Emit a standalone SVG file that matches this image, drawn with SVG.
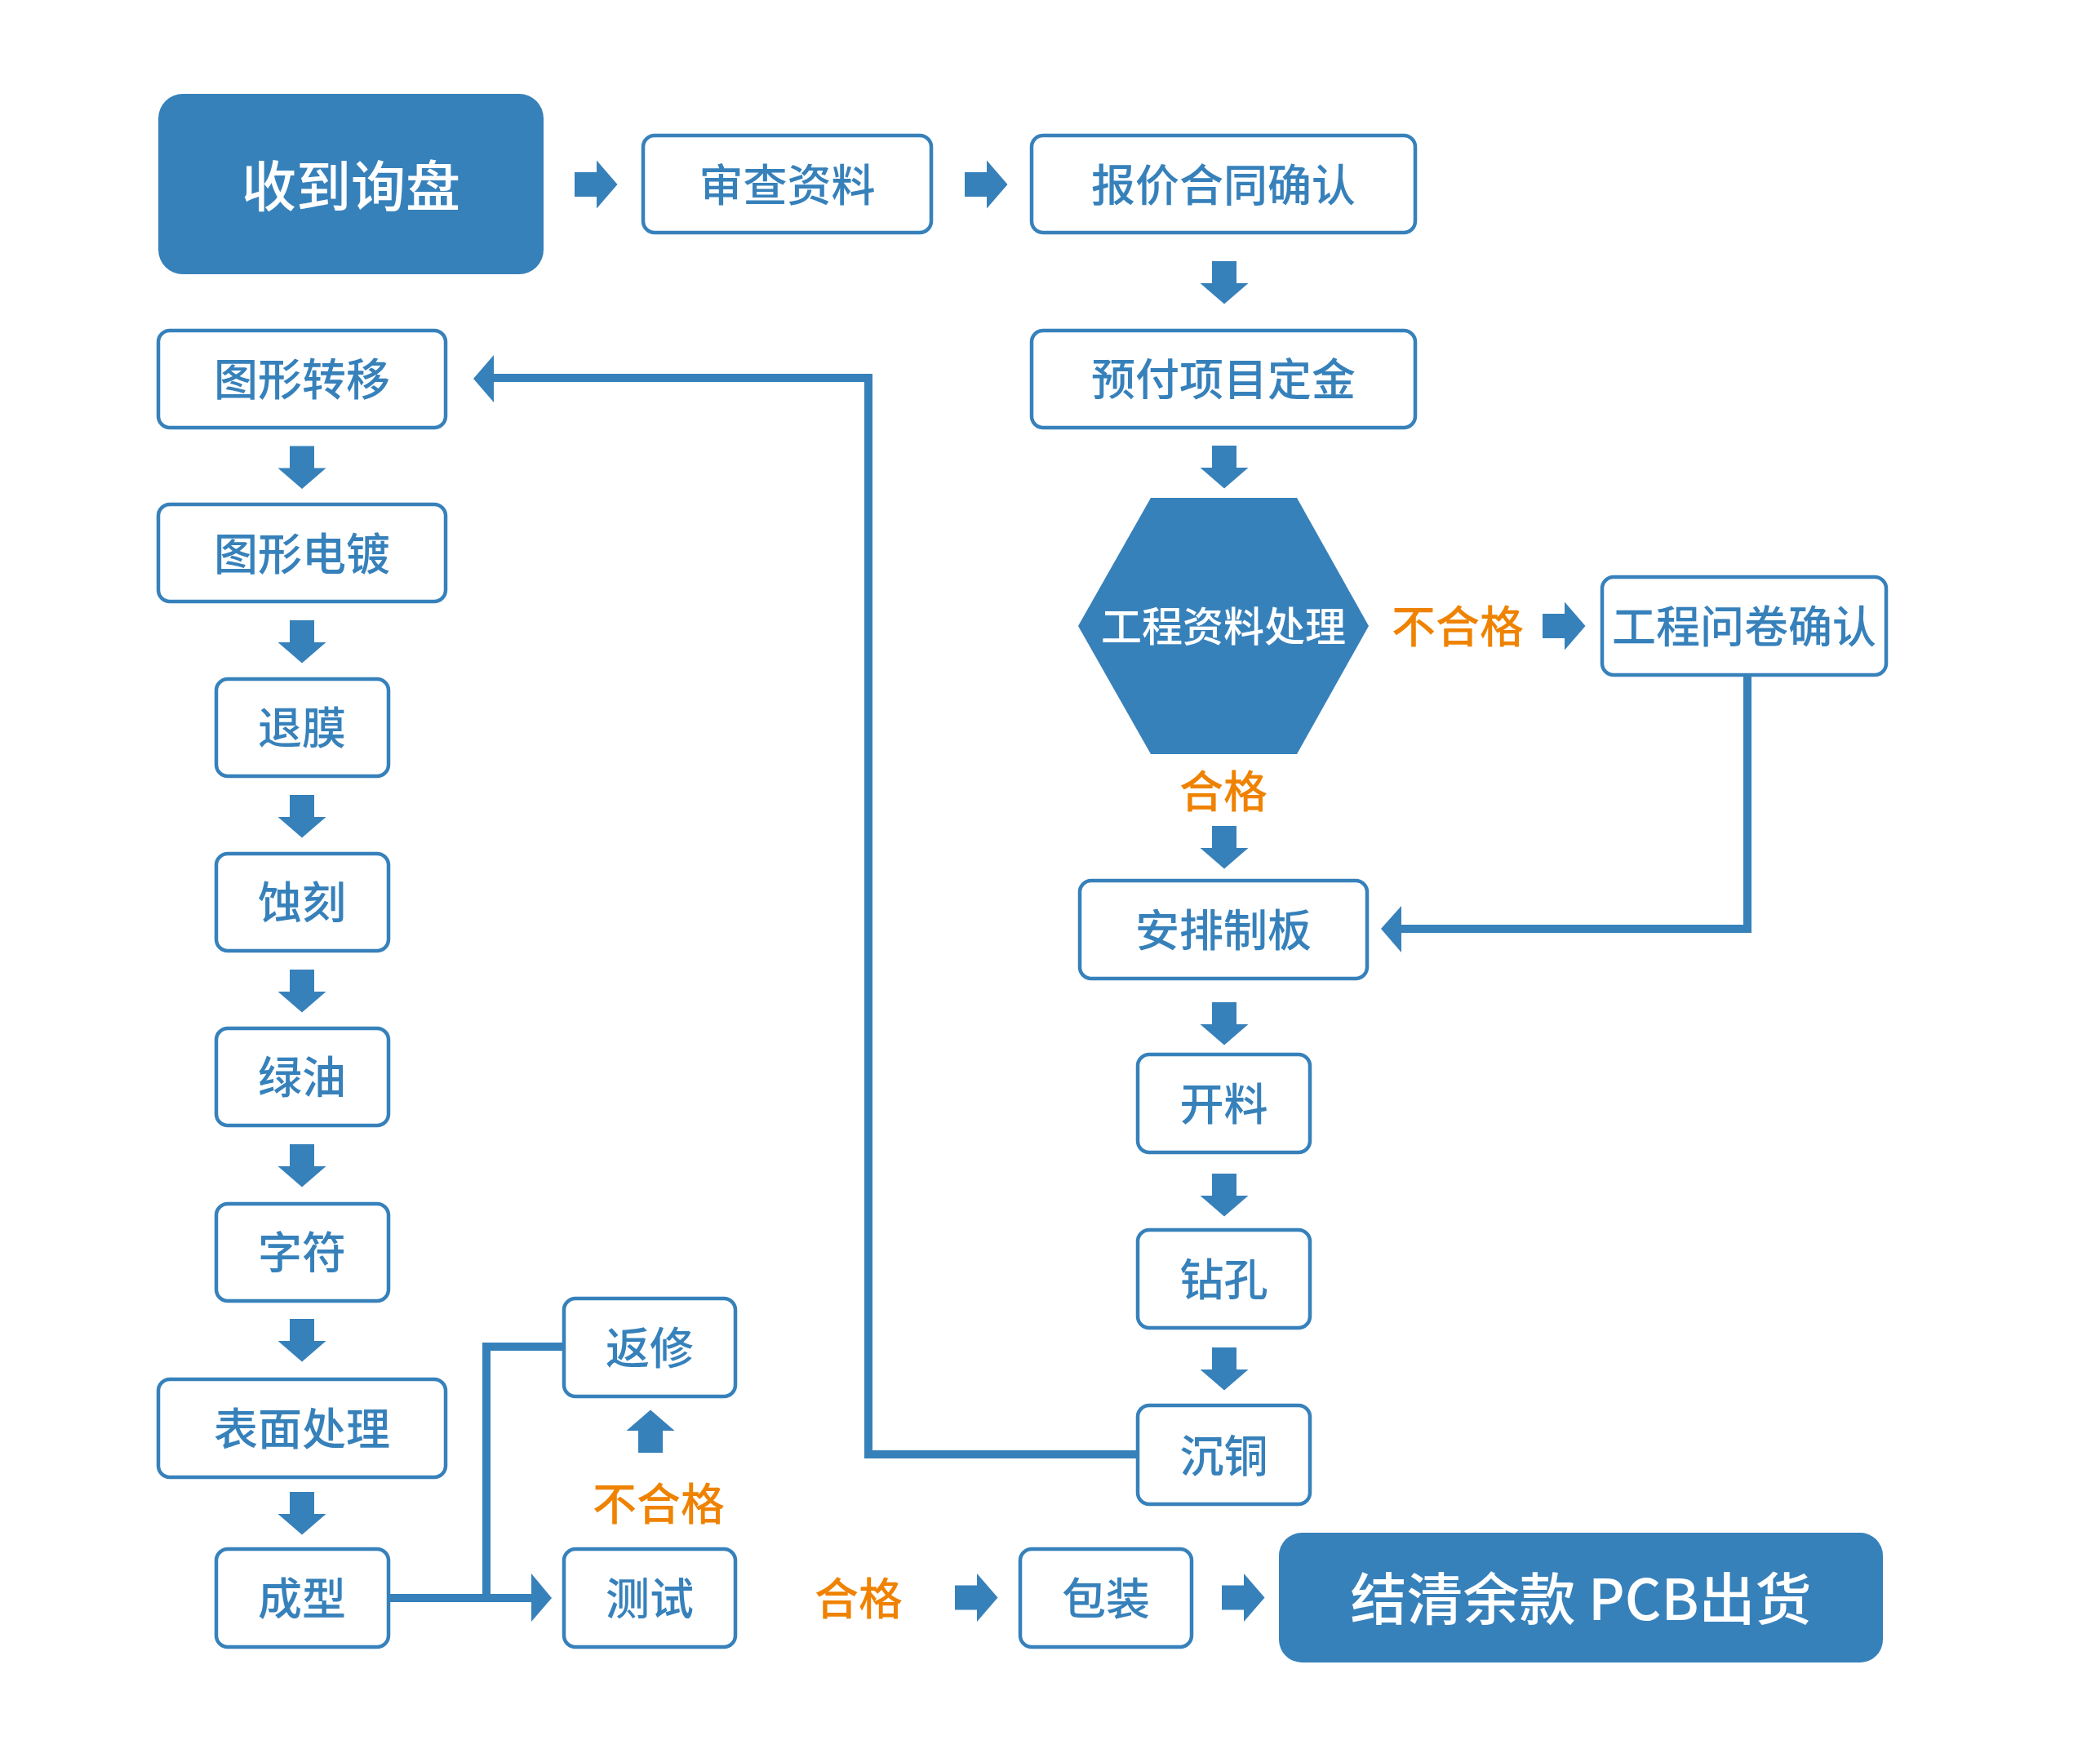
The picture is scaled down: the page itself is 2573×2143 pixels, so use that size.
<svg xmlns="http://www.w3.org/2000/svg" width="2573" height="2143" viewBox="0 0 2573 2143">
<defs>
<style>
.box{fill:#fff;stroke:#3781BB;stroke-width:4.5}
.solid{fill:#3781BB}
.t{font-family:"Noto Sans CJK SC","Noto Sans",sans-serif;font-size:54px;font-weight:500;fill:#3781BB;text-anchor:middle;dominant-baseline:central}
.w{fill:#fff;font-weight:500}
.o{fill:#EF8200;font-size:54px}
.line{fill:none;stroke:#3781BB;stroke-width:10}
.ah{fill:#3781BB}
</style>
<path id="arr" d="M-26,-15 L1,-15 L1,-29.5 L26.5,0 L1,29.5 L1,15 L-26,15 Z" fill="#3781BB"/>
</defs>
<rect width="2573" height="2143" fill="#fff"/>

<g id="connectors">
<use href="#arr" transform="translate(730,226)"/>
<use href="#arr" transform="translate(1208,226)"/>
<use href="#arr" transform="translate(1500,346) rotate(90)"/>
<use href="#arr" transform="translate(1500,572) rotate(90)"/>
<use href="#arr" transform="translate(1500,1038) rotate(90)"/>
<use href="#arr" transform="translate(1500,1254) rotate(90)"/>
<use href="#arr" transform="translate(1500,1464) rotate(90)"/>
<use href="#arr" transform="translate(1500,1677) rotate(90)"/>
<use href="#arr" transform="translate(1916,767)"/>
<use href="#arr" transform="translate(370,572.5) rotate(90)"/>
<use href="#arr" transform="translate(370,786) rotate(90)"/>
<use href="#arr" transform="translate(370,1000) rotate(90)"/>
<use href="#arr" transform="translate(370,1214) rotate(90)"/>
<use href="#arr" transform="translate(370,1428) rotate(90)"/>
<use href="#arr" transform="translate(370,1642) rotate(90)"/>
<use href="#arr" transform="translate(370,1854) rotate(90)"/>
<use href="#arr" transform="translate(797,1754) rotate(-90)"/>
<use href="#arr" transform="translate(1196,1957.5)"/>
<use href="#arr" transform="translate(1523,1957.5)"/>
<polyline class="line" points="1393,1782 1064,1782 1064,463 604,463"/>
<polygon class="ah" points="580,464 605,435 605,493"/>
<polyline class="line" points="2141,828 2141,1138 1715,1138"/>
<polygon class="ah" points="1692,1138 1717,1110 1717,1167"/>
<polyline class="line" points="476,1958 652,1958"/>
<polygon class="ah" points="676,1958 651,1928 651,1987"/>
<polyline class="line" points="596,1958 596,1650 691,1650"/>
</g>

<g id="n-shoudao"><rect class="solid" x="194" y="115" width="472" height="221" rx="30"/><text class="t w" x="430" y="223" style="font-size:67px">收到询盘</text></g>
<g id="n-shencha"><rect class="box" x="788" y="166" width="353" height="119" rx="14"/><text class="t" x="964.5" y="223">审查资料</text></g>
<g id="n-baojia"><rect class="box" x="1264" y="166" width="470" height="119" rx="14"/><text class="t" x="1499" y="223">报价合同确认</text></g>
<g id="n-yufu"><rect class="box" x="1264" y="405" width="470" height="119" rx="14"/><text class="t" x="1499" y="461">预付项目定金</text></g>
<g id="n-gongcheng"><polygon class="solid" points="1321,767 1410,610 1589,610 1677,767 1589,924 1410,924"/><text class="t w" x="1499" y="764" style="font-size:50px">工程资料处理</text></g>
<g id="n-wenjuan"><rect class="box" x="1963" y="707" width="348" height="120" rx="14"/><text class="t" x="2137" y="764">工程问卷确认</text></g>
<g id="n-anpai"><rect class="box" x="1323" y="1079" width="352" height="120" rx="14"/><text class="t" x="1499" y="1136">安排制板</text></g>
<g id="n-kailiao"><rect class="box" x="1394" y="1292" width="211" height="120" rx="14"/><text class="t" x="1499.5" y="1349">开料</text></g>
<g id="n-zuankong"><rect class="box" x="1394" y="1507" width="211" height="120" rx="14"/><text class="t" x="1499.5" y="1564">钻孔</text></g>
<g id="n-chentong"><rect class="box" x="1394" y="1722" width="211" height="121" rx="14"/><text class="t" x="1499.5" y="1780">沉铜</text></g>
<g id="n-tuxingzhuanyi"><rect class="box" x="194" y="405" width="352" height="119" rx="14"/><text class="t" x="370" y="461">图形转移</text></g>
<g id="n-tuxingdiandu"><rect class="box" x="194" y="618" width="352" height="119" rx="14"/><text class="t" x="370" y="675">图形电镀</text></g>
<g id="n-tuimo"><rect class="box" x="265" y="832" width="211" height="119" rx="14"/><text class="t" x="370" y="888">退膜</text></g>
<g id="n-shike"><rect class="box" x="265" y="1046" width="211" height="119" rx="14"/><text class="t" x="370" y="1102">蚀刻</text></g>
<g id="n-lvyou"><rect class="box" x="265" y="1260" width="211" height="119" rx="14"/><text class="t" x="370" y="1316">绿油</text></g>
<g id="n-zifu"><rect class="box" x="265" y="1475" width="211" height="119" rx="14"/><text class="t" x="370" y="1531">字符</text></g>
<g id="n-biaomian"><rect class="box" x="194" y="1690" width="352" height="120" rx="14"/><text class="t" x="370" y="1747">表面处理</text></g>
<g id="n-chengxing"><rect class="box" x="265" y="1898" width="211" height="120" rx="14"/><text class="t" x="370" y="1955">成型</text></g>
<g id="n-fanxiu"><rect class="box" x="691" y="1591" width="210" height="120" rx="14"/><text class="t" x="796" y="1648">返修</text></g>
<g id="n-ceshi"><rect class="box" x="691" y="1898" width="210" height="120" rx="14"/><text class="t" x="796" y="1955">测试</text></g>
<g id="n-baozhuang"><rect class="box" x="1250" y="1898" width="210" height="120" rx="14"/><text class="t" x="1355" y="1955">包装</text></g>
<g id="n-jieqing"><rect class="solid" x="1567" y="1878" width="740" height="159" rx="28"/><text class="t w" x="1937" y="1955" style="font-size:69px">结清余款 PCB出货</text></g>

<g id="labels">
<text class="t o" x="1786" y="764">不合格</text>
<text class="t o" x="1499" y="966">合格</text>
<text class="t o" x="807" y="1839">不合格</text>
<text class="t o" x="1052" y="1955">合格</text>
</g>
</svg>
